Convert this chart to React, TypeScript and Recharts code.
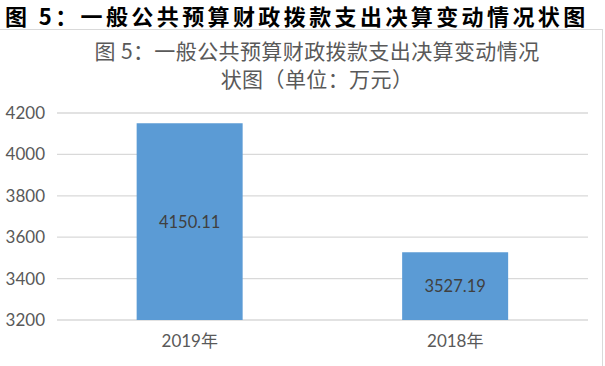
import React from 'react';
import { BarChart, Bar, XAxis, YAxis, CartesianGrid, LabelList } from 'recharts';

const years = ['2019年', '2018年'];
const spending = [4150.11, 3527.19];
const yTicks = [3200, 3400, 3600, 3800, 4000, 4200];

const data = years.map((name, i) => ({ name, value: spending[i] }));

const numFont = 'Lato, "Noto Sans CJK SC", sans-serif';

const titleLine: React.CSSProperties = {
  position: 'absolute',
  left: 0,
  width: 634,
  height: 26,
  textAlign: 'center',
  fontFamily: '"Noto Sans CJK SC", sans-serif',
  fontSize: 21,
  letterSpacing: 0.4,
  lineHeight: '26px',
  color: '#595959',
  whiteSpace: 'nowrap',
};

const App: React.FC = () => {
  return (
    <div style={{ position: 'absolute', left: 0, top: 0, width: 605, height: 366, background: '#fff', overflow: 'hidden' }}>
      <div
        style={{
          position: 'absolute',
          left: 5,
          top: 2,
          fontFamily: '"Noto Sans CJK SC", serif',
          fontWeight: 700,
          fontSize: 22,
          letterSpacing: 3.4,
          color: '#000',
          whiteSpace: 'nowrap',
          lineHeight: '26px',
        }}
      >
        图 5：一般公共预算财政拨款支出决算变动情况状图
      </div>
      {/* table borders from the source document */}
      <div style={{ position: 'absolute', left: 0, top: 29, width: 603, height: 1, background: '#d9d9d9' }} />
      <div style={{ position: 'absolute', left: 602, top: 29, width: 1, height: 337, background: '#d9d9d9' }} />
      <div style={{ ...titleLine, top: 37 }}>图 5：一般公共预算财政拨款支出决算变动情况</div>
      <div style={{ ...titleLine, top: 65 }}>状图（单位：万元）</div>
      <BarChart
        width={605}
        height={366}
        data={data}
        margin={{ top: 113, right: 17, left: 0, bottom: 16 }}
        barCategoryGap="30%"
      >
        <CartesianGrid vertical={false} stroke="#d9d9d9" strokeWidth={1.3} />
        <XAxis
          dataKey="name"
          height={30}
          axisLine={false}
          tickLine={false}
          tickMargin={9}
          tick={{ fill: '#595959', fontSize: 17, fontFamily: numFont }}
        />
        <YAxis
          width={57}
          domain={[3200, 4200]}
          ticks={yTicks}
          axisLine={false}
          tickLine={false}
          tickMargin={6}
          tick={{ fill: '#595959', fontSize: 17, fontFamily: numFont }}
        />
        <Bar dataKey="value" fill="#5b9bd5" isAnimationActive={false}>
          <LabelList
            dataKey="value"
            position="center"
            fill="#404040"
            fontSize={16.5}
            fontFamily={numFont}
          />
        </Bar>
      </BarChart>
    </div>
  );
};

export default App;
